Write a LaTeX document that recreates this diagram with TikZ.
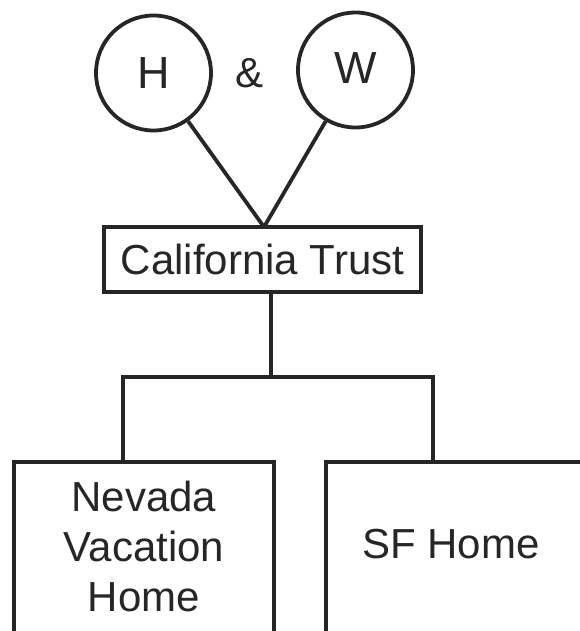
\documentclass[tikz,border=0pt]{standalone}
\usepackage{fontspec}
\setmainfont{Liberation Sans}
\begin{document}
\begin{tikzpicture}[x=1pt,y=-1pt,
  ink/.style={draw=black!85, line width=3.8pt},
  person/.style={ink, circle, inner sep=0pt, minimum size=115pt, font=\fontsize{45}{50}\selectfont},
  trustbox/.style={ink, rectangle, inner sep=0pt, minimum width=317pt, minimum height=65pt, font=\fontsize{42}{48}\selectfont},
  assetbox/.style={ink, rectangle, inner sep=0pt, minimum width=260pt, minimum height=240pt, align=center, font=\fontsize{42}{50}\selectfont},
  link/.style={draw=black!85, line width=3.8pt},
  lbl/.style={font=\fontsize{42}{48}\selectfont, text=black!85}]
\clip (0,0) rectangle (580,631);
\fill[white] (0,0) rectangle (580,631);

% spouses
\node[person] (H) at (153.5,73) {\textcolor{black!85}{H}};
\node[person] (W) at (355.5,70) {\raisebox{3pt}{\textcolor{black!85}{W}}};
\node[lbl] (amp) at (250,73) {\&};

% trust
\node[trustbox] (trust) at (262.5,259.5) {\textcolor{black!85}{California Trust}};
\coordinate (apex) at (264,227);
\draw[link] (H) -- (apex);
\draw[link] (W) -- (apex);

% assets held by the trust
\node[assetbox, anchor=north] (nv) at (144,460) {};
\node[lbl, align=center, font=\fontsize{42}{50}\selectfont] (nvtext) at (144,546) {Nevada\\Vacation\\Home};
\node[assetbox, anchor=north west] (sf) at (324,460) {};
\node[lbl] (sftext) at (451,544) {SF Home};

% branching connector
\coordinate (trunkTop) at (271,292);
\coordinate (trunkBot) at (271,377);
\coordinate (barL) at (123,377);
\coordinate (barR) at (433,377);
\coordinate (dropL) at (123,460);
\coordinate (dropR) at (433,460);
\draw[link] (trunkTop) -- (trunkBot);
\draw[link, line join=miter] (dropL) -- (barL) -- (barR) -- (dropR);
\end{tikzpicture}
\end{document}
